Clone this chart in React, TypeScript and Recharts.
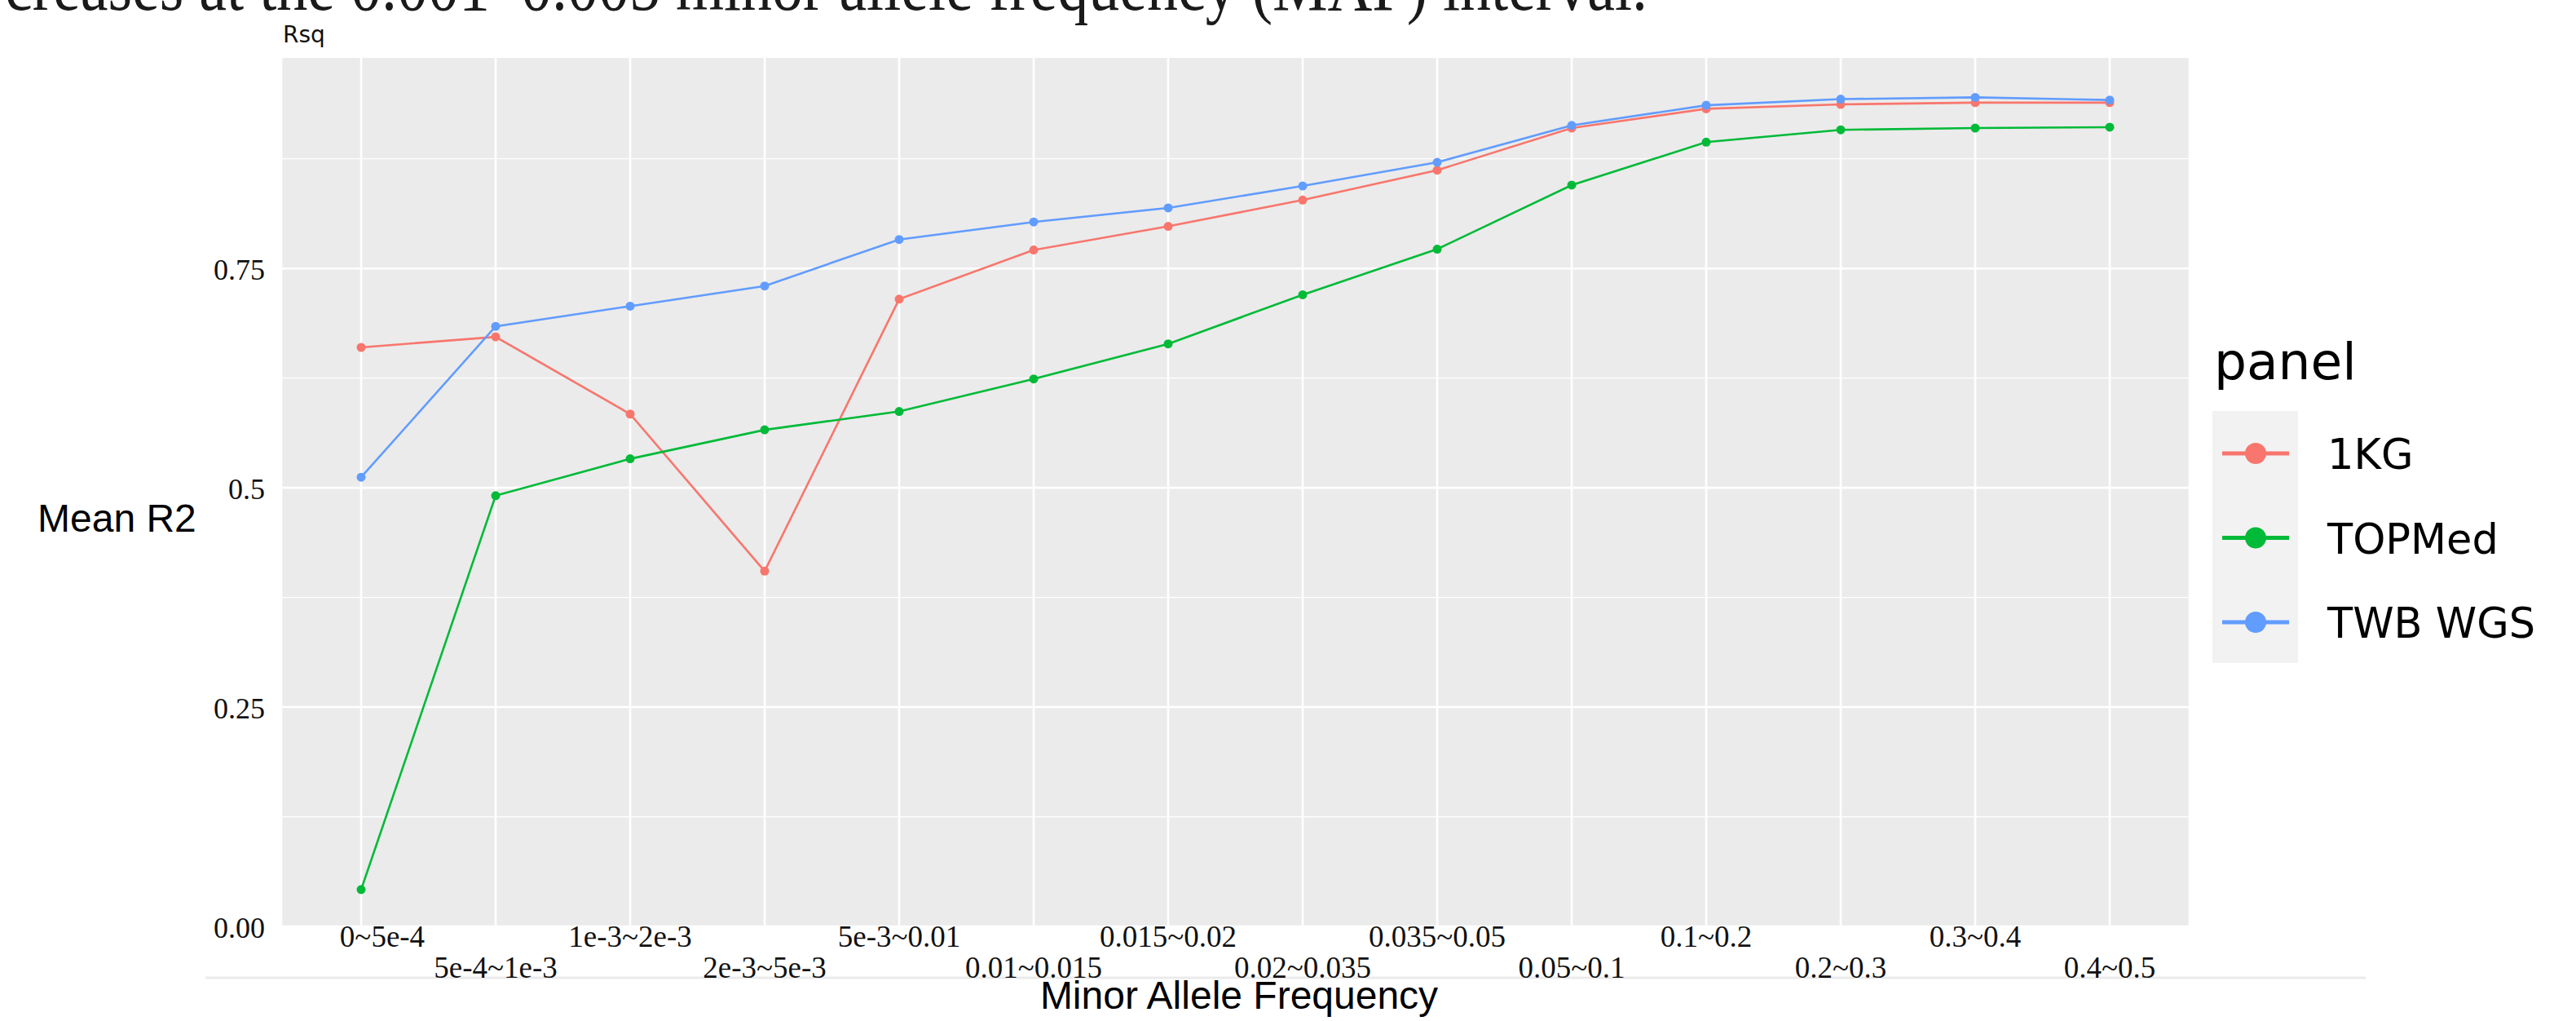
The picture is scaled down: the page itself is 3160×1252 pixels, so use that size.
import { LineChart, Line, XAxis, YAxis, CartesianGrid, ReferenceLine } from "recharts";

const MAF_BINS = [
  "0~5e-4",
  "5e-4~1e-3",
  "1e-3~2e-3",
  "2e-3~5e-3",
  "5e-3~0.01",
  "0.01~0.015",
  "0.015~0.02",
  "0.02~0.035",
  "0.035~0.05",
  "0.05~0.1",
  "0.1~0.2",
  "0.2~0.3",
  "0.3~0.4",
  "0.4~0.5",
];

const KG1_R2 = [0.66, 0.672, 0.584, 0.405, 0.715, 0.771, 0.798, 0.828, 0.862, 0.91, 0.932, 0.937, 0.939, 0.939];
const TOPMED_R2 = [0.042, 0.491, 0.533, 0.566, 0.587, 0.624, 0.664, 0.72, 0.772, 0.845, 0.894, 0.908, 0.91, 0.911];
const TWB_WGS_R2 = [0.512, 0.684, 0.707, 0.73, 0.783, 0.803, 0.819, 0.844, 0.871, 0.913, 0.936, 0.943, 0.945, 0.942];

const Y_MAJOR = [0, 0.25, 0.5, 0.75];
const Y_MINOR = [0.125, 0.375, 0.625, 0.875];
const Y_TICK_LABELS = ["0.00", "0.25", "0.5", "0.75"];

const SERIES = [
  { key: "kg1", name: "1KG", color: "#F8766D" },
  { key: "topmed", name: "TOPMed", color: "#00BA38" },
  { key: "twb", name: "TWB WGS", color: "#619CFF" },
];

const data = MAF_BINS.map((maf, i) => ({
  maf,
  kg1: KG1_R2[i],
  topmed: TOPMED_R2[i],
  twb: TWB_WGS_R2[i],
}));

const SERIF = "'Liberation Serif', 'Times New Roman', serif";
const SANS = "'Liberation Sans', Arial, sans-serif";
const DEJAVU = "'DejaVu Sans', sans-serif";

function MafTick({ x, y, payload, index }: any) {
  const i = typeof index === "number" ? index : MAF_BINS.indexOf(payload.value);
  const lower = i % 2 === 1;
  // the first label sits a little right of its gridline in the original
  const dx = i === 0 ? 26 : 0;
  return (
    <text x={x + dx} y={y + (lower ? 63 : 25)} textAnchor="middle" fontFamily={SERIF} fontSize={37} fill="#111">
      {payload.value}
    </text>
  );
}

function R2Tick({ x, y, payload }: any) {
  const label = Y_TICK_LABELS[Y_MAJOR.indexOf(payload.value)] ?? String(payload.value);
  return (
    <text x={x} y={y + 14} textAnchor="end" fontFamily={SERIF} fontSize={36} fill="#111">
      {label}
    </text>
  );
}

function Overlay() {
  return (
    <svg width={3160} height={1252} style={{ position: "absolute", left: 0, top: 0 }}>
      <text
        x={6}
        y={12}
        fontFamily={SERIF}
        fontSize={88}
        textLength={2015}
        lengthAdjust="spacingAndGlyphs"
        fill="#1a1a1a"
      >
        creases at the 0.001–0.005 minor allele frequency (MAF) interval.
      </text>
      <text x={347} y={52} fontFamily={DEJAVU} fontSize={28} fill="#111">
        Rsq
      </text>
      <text x={46} y={652} fontFamily={SANS} fontSize={48} fill="#000">
        Mean R2
      </text>
      <text x={1520} y={1237} textAnchor="middle" fontFamily={SANS} fontSize={48} fill="#000">
        Minor Allele Frequency
      </text>
      <line x1={252} x2={2902} y1={1199} y2={1199} stroke="#EBEBEB" strokeWidth={3} />

      <text x={2716} y={465} fontFamily={DEJAVU} fontSize={63} fill="#000">
        panel
      </text>
      <rect x={2714} y={504} width={105} height={309} fill="#F2F2F2" />
      {SERIES.map((s, i) => {
        const cy = 556 + i * 103.5;
        return (
          <g key={s.key}>
            <line x1={2726} x2={2808} y1={cy} y2={cy} stroke={s.color} strokeWidth={5} />
            <circle cx={2767} cy={cy} r={13} fill={s.color} />
            <text x={2855} y={cy + 19} fontFamily={DEJAVU} fontSize={51} fill="#000">
              {s.name}
            </text>
          </g>
        );
      })}
    </svg>
  );
}

export default function App() {
  return (
    <div style={{ position: "relative", width: 3160, height: 1252, overflow: "hidden", background: "#fff" }}>
      <style>{"html,body{margin:0;padding:0;overflow:hidden;background:#fff}"}</style>
      <Overlay />
      <div style={{ position: "absolute", left: 0, top: 0 }}>
        <LineChart width={3160} height={1252} data={data} margin={{ top: 71, right: 474, bottom: 36, left: 245 }}>
          <CartesianGrid horizontal={false} stroke="#FFFFFF" strokeWidth={2.6} fill="#EBEBEB" />
          {Y_MINOR.map((v) => (
            <ReferenceLine key={`minor-${v}`} y={v} stroke="#FFFFFF" strokeWidth={1.3} ifOverflow="visible" />
          ))}
          {Y_MAJOR.map((v) => (
            <ReferenceLine key={`major-${v}`} y={v} stroke="#FFFFFF" strokeWidth={2.6} ifOverflow="visible" />
          ))}
          <XAxis
            dataKey="maf"
            type="category"
            interval={0}
            padding={{ left: 98, right: 98 }}
            height={80}
            axisLine={false}
            tickLine={false}
            tickSize={0}
            tickMargin={0}
            tick={<MafTick />}
          />
          <YAxis
            type="number"
            domain={[0, 0.99]}
            ticks={Y_MAJOR}
            allowDataOverflow
            width={100}
            axisLine={false}
            tickLine={false}
            tickSize={0}
            tickMargin={20}
            tick={<R2Tick />}
          />
          {SERIES.map((s) => (
            <Line
              key={s.key}
              type="linear"
              dataKey={s.key}
              name={s.name}
              stroke={s.color}
              strokeWidth={2.6}
              dot={{ r: 5.5, fill: s.color, stroke: s.color, strokeWidth: 0 }}
              activeDot={false}
              isAnimationActive={false}
            />
          ))}
        </LineChart>
      </div>
    </div>
  );
}
